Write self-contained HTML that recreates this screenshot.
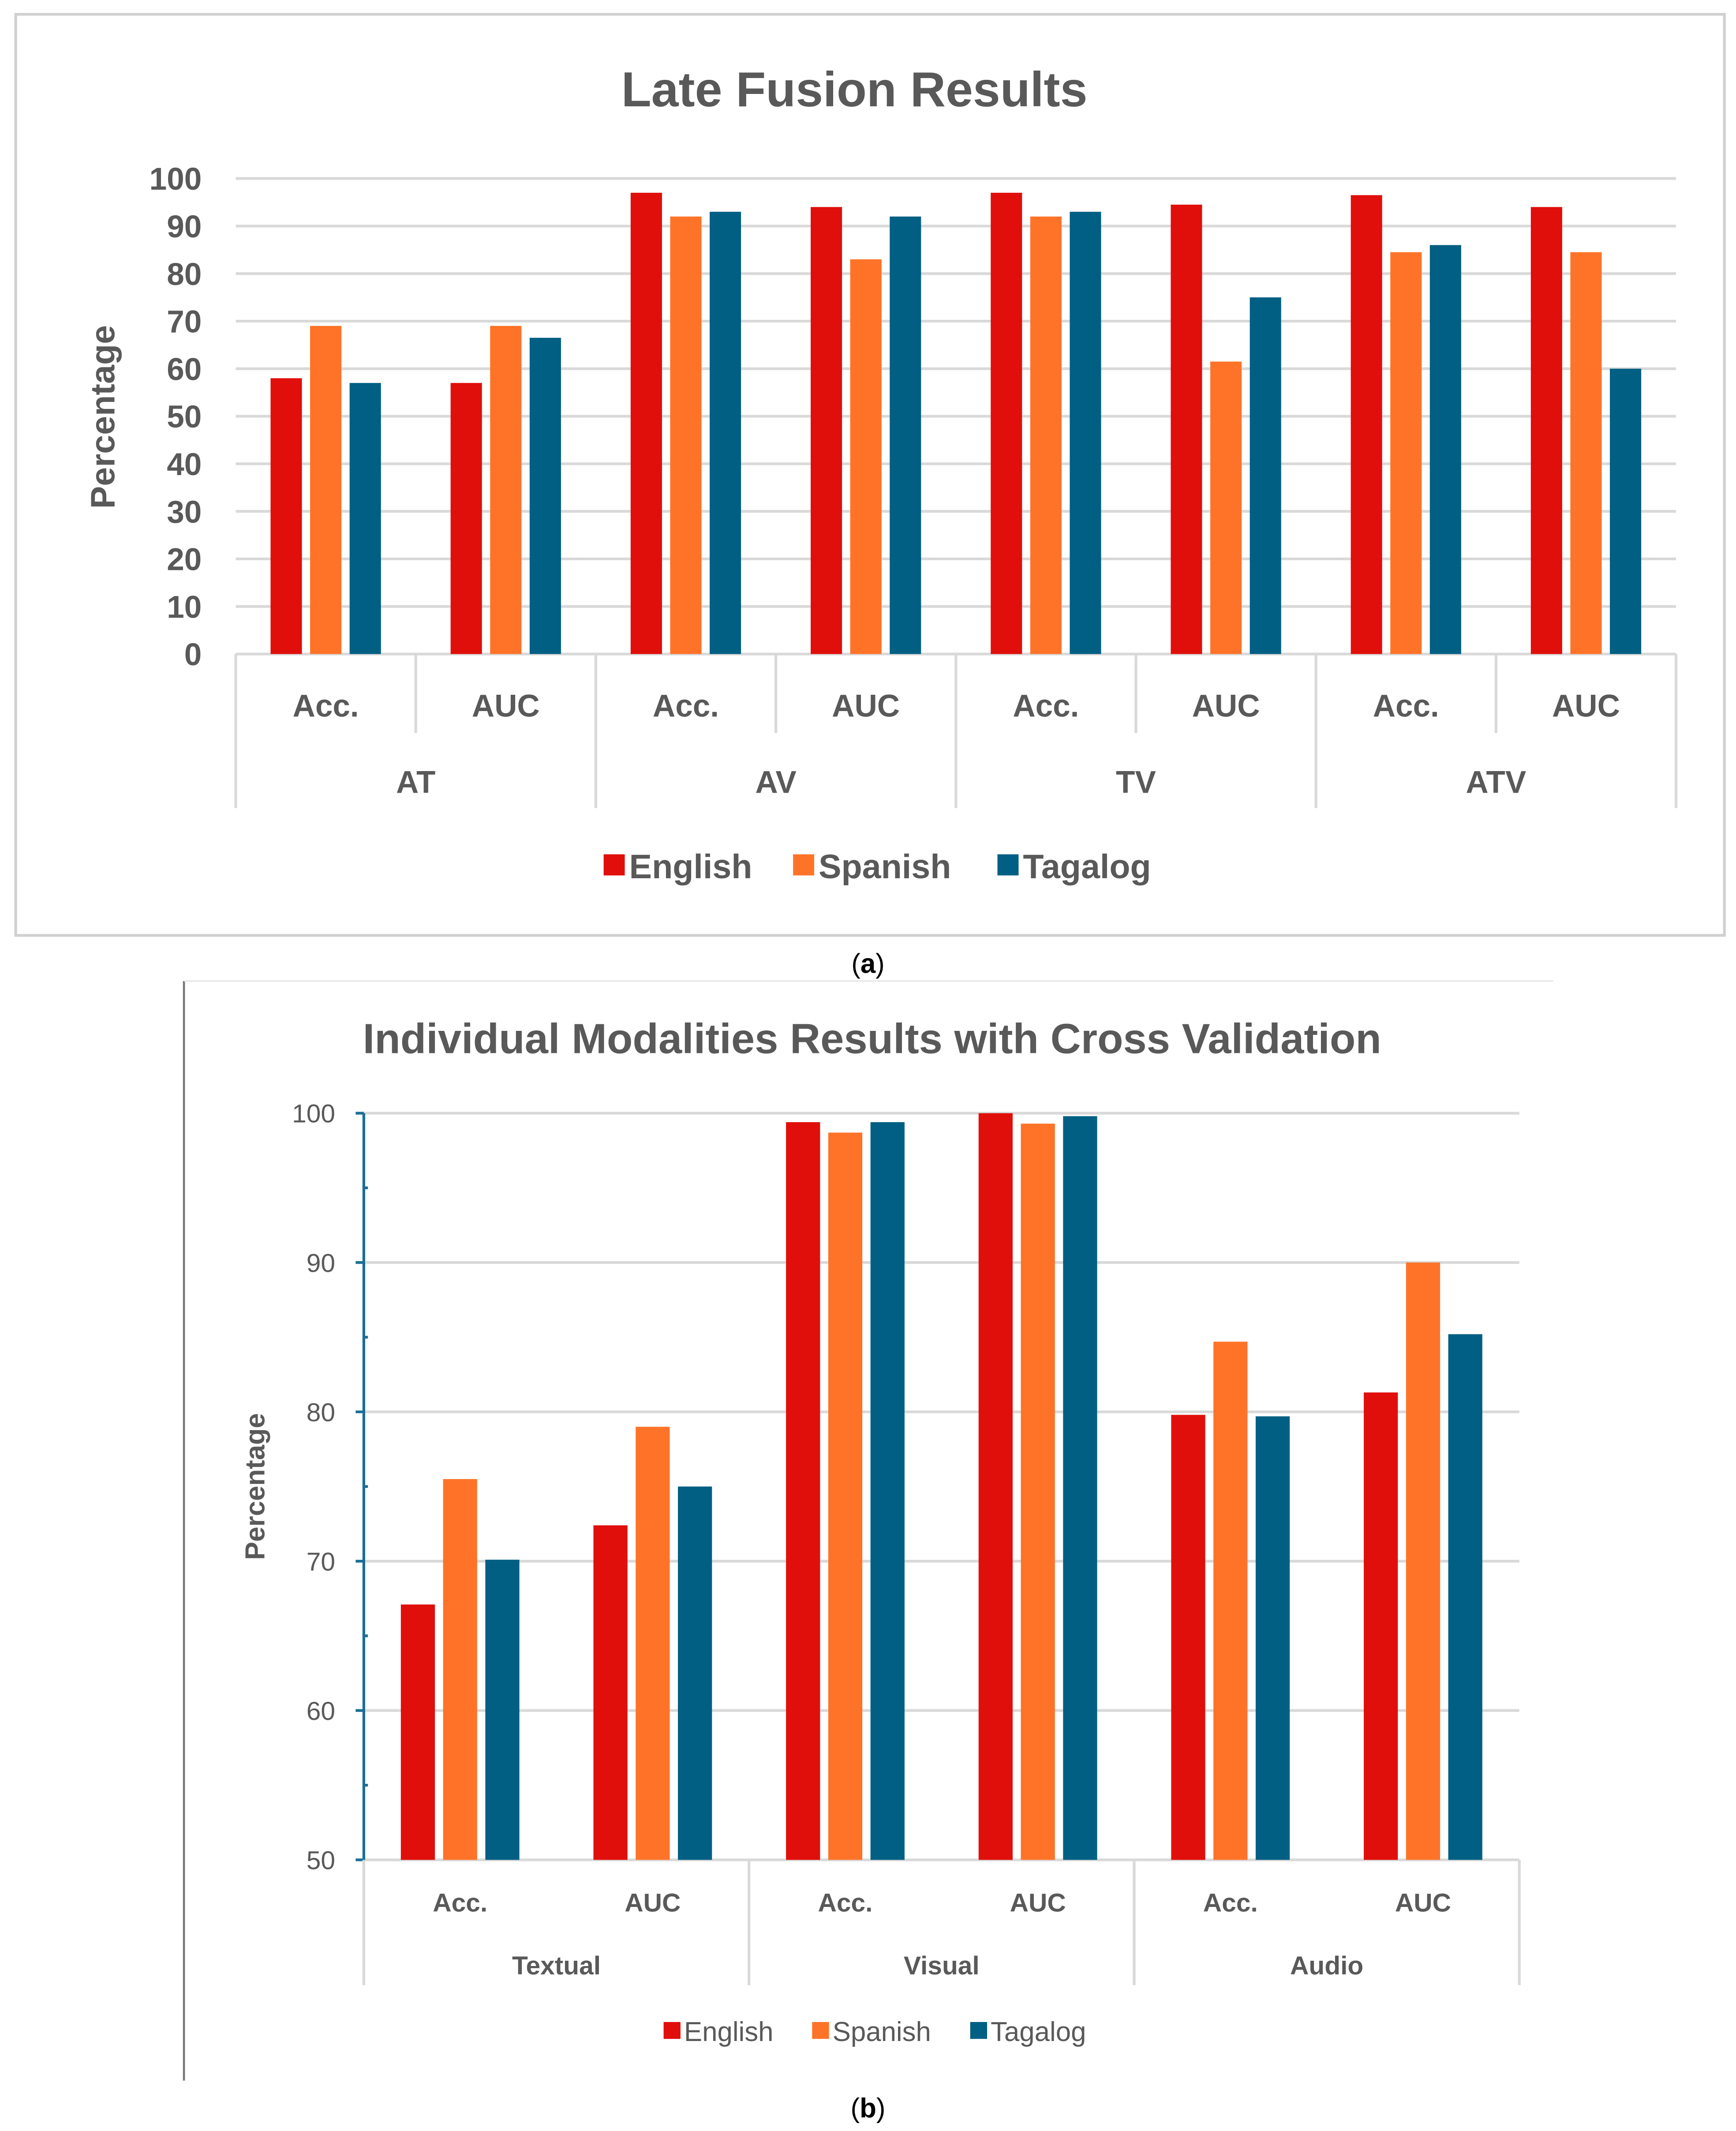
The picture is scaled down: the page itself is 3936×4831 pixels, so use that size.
<!DOCTYPE html>
<html><head><meta charset="utf-8"><style>
html,body{margin:0;padding:0;background:#fff;}
svg{display:block;}
text{font-family:"Liberation Sans",sans-serif;}
</style></head><body>
<svg id="svg" width="3936" height="4831" viewBox="0 0 1274 1564" preserveAspectRatio="none" xmlns="http://www.w3.org/2000/svg">
<rect x="0" y="0" width="1274" height="1564" fill="#fff"/>
<rect x="11.5" y="10.5" width="1254" height="676" fill="#fff" stroke="#d0d0d0" stroke-width="2"/>
<text x="627" y="78" text-anchor="middle" font-size="36" font-weight="bold" fill="#595959">Late Fusion Results</text>
<text transform="translate(84,306) rotate(-90)" text-anchor="middle" font-size="25" font-weight="bold" fill="#595959">Percentage</text>
<g id="ga"></g>
<text x="637" y="714" text-anchor="middle" font-size="20" fill="#000" font-family="Liberation Serif">(<tspan font-weight="bold">a</tspan>)</text>
<line x1="135" y1="720" x2="135" y2="1527" stroke="#777" stroke-width="1.5"/>
<line x1="135" y1="720" x2="1140" y2="720" stroke="#e6e6e6" stroke-width="1"/>
<text x="640" y="773" text-anchor="middle" font-size="31" font-weight="bold" fill="#595959">Individual Modalities Results with Cross Validation</text>
<text transform="translate(194,1091) rotate(-90)" text-anchor="middle" font-size="20" font-weight="bold" fill="#595959">Percentage</text>
<g id="gb"></g>
<text x="637" y="1554" text-anchor="middle" font-size="20" fill="#000" font-family="Liberation Serif">(<tspan font-weight="bold">b</tspan>)</text>
</svg>
<script>
const seriesNames=["English","Spanish","Tagalog"];
const colors=["#E00F0B","#FF7328","#005F83"];
// Chart A
const aGroups=["AT","AV","TV","ATV"];
const aSubs=["Acc.","AUC","Acc.","AUC","Acc.","AUC","Acc.","AUC"];
const aEnglish=[58,57,97,94,97,94.5,96.5,94];
const aSpanish=[69,69,92,83,92,61.5,84.5,84.5];
const aTagalog=[57,66.5,93,92,93,75,86,60];
const aTicks=[0,10,20,30,40,50,60,70,80,90,100];
// Chart B
const bGroups=["Textual","Visual","Audio"];
const bSubs=["Acc.","AUC","Acc.","AUC","Acc.","AUC"];
const bEnglish=[67.1,72.4,99.4,100,79.8,81.3];
const bSpanish=[75.5,79,98.7,99.3,84.7,90];
const bTagalog=[70.1,75,99.4,99.8,79.7,85.2];
const bTicks=[50,60,70,80,90,100];

const NS="http://www.w3.org/2000/svg";
function mk(p,tag,at,txt){const e=document.createElementNS(NS,tag);for(const k in at)e.setAttribute(k,at[k]);if(txt!=null)e.textContent=txt;p.appendChild(e);return e;}

function draw(g,o){
  const {x0,x1,yTop,yBot,vmin,vmax,ticks,subs,groups,series,bw,step,tickX,tickFs,tickBold,gridColor,subY,grpY,subLineBot,grpLineBot,labFs,legY,legFs,legBold,legX,axisBlue,minor,subDividers}=o;
  const ys=v=>yBot-(v-vmin)/(vmax-vmin)*(yBot-yTop);
  const slot=(x1-x0)/subs.length;
  const xs=i=>x0+slot*(i+0.5);
  ticks.forEach(t=>{
    const l=mk(g,'line',{x1:x0,x2:x1,y1:ys(t),y2:ys(t),stroke:gridColor,'stroke-width':t===vmin?2:2});
    
    
    const tx=mk(g,'text',{x:tickX,y:ys(t)+tickFs*0.36,'text-anchor':'end','font-size':tickFs,'font-weight':tickBold?'bold':'normal',fill:'#595959'},String(t));
    
    
  });
  series.forEach((vals,si)=>{
    vals.forEach((v,i)=>{
      const cx=xs(i)+(si-1)*step;
      const r=mk(g,'rect',{x:cx-bw/2,y:ys(v),width:bw,height:ys(vmin)-ys(v),fill:colors[si]});
      
      
    });
  });
  if(axisBlue){
    const a=mk(g,'line',{x1:x0,x2:x0,y1:yTop,y2:yBot,stroke:'#1a6e96','stroke-width':2});
    
    
    for(let v=vmin;v<=vmax;v+=minor){
      const major=ticks.includes(v);
      const tk=mk(g,'line',{x1:x0-(major?6:0),x2:x0+(major?0:3),y1:ys(v),y2:ys(v),stroke:'#1a6e96','stroke-width':2});
      
      
    }
  }
  // x-axis category lines
  const per=subs.length/groups.length;
  for(let i=0;i<=subs.length;i++){
    const x=x0+slot*i;
    const isG=i%per===0;
    if(!isG&&!subDividers)continue;
    const l=mk(g,'line',{x1:x,x2:x,y1:yBot,y2:isG?grpLineBot:subLineBot,stroke:'#d9d9d9','stroke-width':2});
    
    
  }
  subs.forEach((s,i)=>{
    const t=mk(g,'text',{x:xs(i),y:subY,'text-anchor':'middle','font-size':labFs,'font-weight':'bold',fill:'#595959'},s);
    
    
  });
  groups.forEach((s,i)=>{
    const t=mk(g,'text',{x:x0+slot*per*(i+0.5),y:grpY,'text-anchor':'middle','font-size':labFs,'font-weight':'bold',fill:'#595959'},s);
    
    
  });
  seriesNames.forEach((n,si)=>{
    const lx=legX[si];
    const r=mk(g,'rect',{x:lx,y:legY-legFs*0.4,width:legFs*0.62,height:legFs*0.62,fill:colors[si]});
    
    
    const t=mk(g,'text',{x:lx+legFs*0.75,y:legY+legFs*0.3,'font-size':legFs,'font-weight':legBold?'bold':'normal',fill:'#595959'},n);
    
    
  });
}
draw(document.getElementById('ga'),{x0:173,x1:1230,yTop:131,yBot:480,vmin:0,vmax:100,ticks:aTicks,subs:aSubs,groups:aGroups,
  series:[aEnglish,aSpanish,aTagalog],bw:23,step:29,tickX:148,tickFs:23,tickBold:true,gridColor:'#d9d9d9',subY:526,grpY:582,
  subLineBot:538,grpLineBot:593,labFs:23,legY:637,legFs:25,legBold:true,legX:[443,582,732],subDividers:true});
draw(document.getElementById('gb'),{x0:267,x1:1115,yTop:817,yBot:1365,vmin:50,vmax:100,ticks:bTicks,subs:bSubs,groups:bGroups,
  series:[bEnglish,bSpanish,bTagalog],bw:25,step:31,tickX:246,tickFs:19,tickBold:false,gridColor:'#d9d9d9',subY:1403,grpY:1449,
  subLineBot:1457,grpLineBot:1457,labFs:19,legY:1492,legFs:20,legBold:false,legX:[487,596,712],axisBlue:true,minor:5,subDividers:false});
</script>
</body></html>
